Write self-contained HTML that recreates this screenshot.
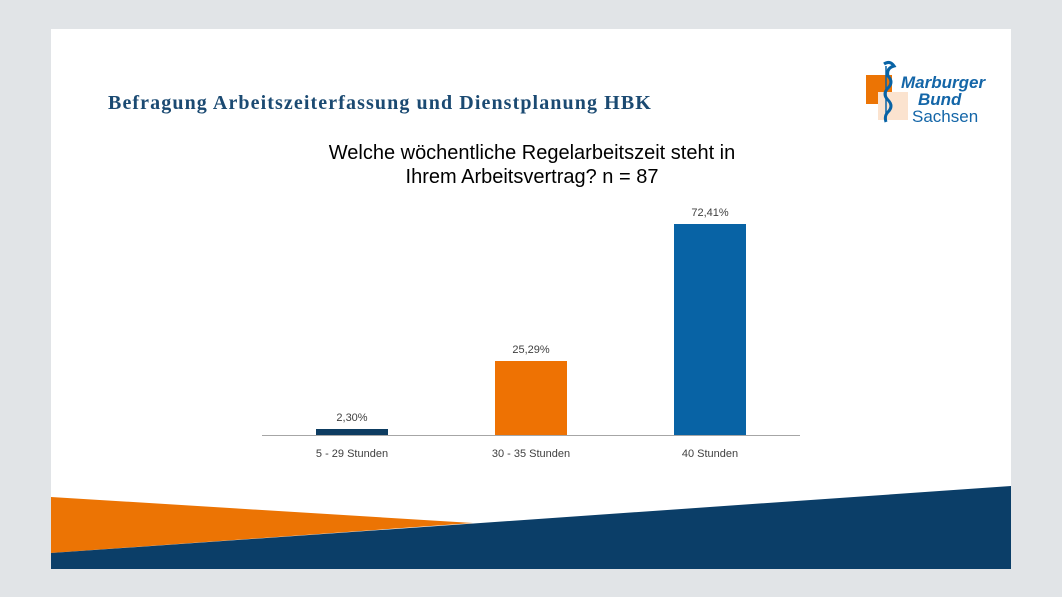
<!DOCTYPE html>
<html><head><style>
body{margin:0;width:1062px;height:597px;background:#e1e4e7;position:relative;overflow:hidden;font-family:"Liberation Sans",sans-serif}
.slide{position:absolute;left:51px;top:29px;width:960px;height:540px;background:#fff;overflow:hidden}
</style></head><body>
<div class="slide"></div>
<svg width="1062" height="597" style="position:absolute;left:0;top:0">
<polygon points="51,497 473,523 51,553" fill="#ec7404"/>
<polygon points="51,553 1011,486 1011,569 51,569" fill="#0b3e68"/>
<line x1="262" y1="435.5" x2="800" y2="435.5" stroke="#a6a6a6" stroke-width="1"/>
<rect x="316" y="429" width="72" height="6" fill="#0d3c61"/>
<rect x="495" y="361" width="72" height="74" fill="#ee7203"/>
<rect x="674" y="224" width="72" height="211" fill="#0863a5"/>
<g font-family="Liberation Sans, sans-serif" font-size="11" fill="#404040" text-anchor="middle">
<text x="352" y="421">2,30%</text>
<text x="531" y="353">25,29%</text>
<text x="710" y="216">72,41%</text>
<text x="352" y="457">5 - 29 Stunden</text>
<text x="531" y="457">30 - 35 Stunden</text>
<text x="710" y="457">40 Stunden</text>
</g>
<g font-family="Liberation Sans, sans-serif" font-size="20" fill="#000" text-anchor="middle">
<text x="532" y="159">Welche wöchentliche Regelarbeitszeit steht in</text>
<text x="532" y="183">Ihrem Arbeitsvertrag? n = 87</text>
</g>
<text x="108" y="109" font-family="Liberation Serif, serif" font-weight="bold" font-size="20" letter-spacing="1.1" fill="#1b4a72">Befragung Arbeitszeiterfassung und Dienstplanung HBK</text>
<rect x="866" y="75" width="26" height="29" fill="#ec7404"/>
<rect x="878" y="92" width="30" height="28" fill="#fbe3cf"/>
<path d="M884 64 q6 -4 10 2 q-8 2 -6 10 q6 6 0 12 q-6 6 0 12 q6 6 0 12 q-4 4 -2 10" stroke="#0863a5" stroke-width="3" fill="none"/>
<line x1="886" y1="66" x2="886" y2="120" stroke="#0863a5" stroke-width="1.5"/>
<g font-family="Liberation Sans, sans-serif" font-style="italic" font-weight="bold" font-size="17" fill="#1466a8">
<text x="901" y="88">Marburger</text>
<text x="918" y="105">Bund</text>
</g>
<text x="912" y="122" font-family="Liberation Sans, sans-serif" font-size="17" fill="#1466a8">Sachsen</text>
</svg>
</body></html>
